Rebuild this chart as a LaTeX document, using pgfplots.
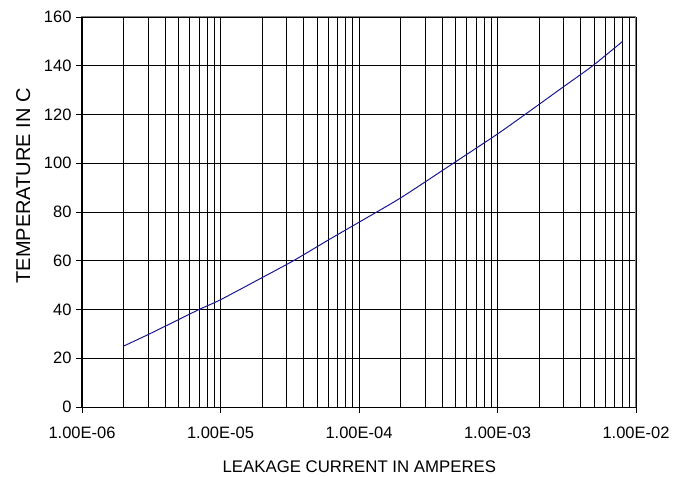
\documentclass[border=0pt]{standalone}
\usepackage{pgfplots}
\pgfplotsset{compat=1.18}
\usepackage{fontspec}
\setmainfont{Liberation Sans}
\definecolor{curve}{RGB}{25,25,145}
\begin{document}
\begin{tikzpicture}[x=1pt,y=1pt]
\begin{axis}[
  scale only axis,
  width=554pt, height=390pt,
  xmode=log,
  xmin=1e-6, xmax=1e-2,
  ymin=0, ymax=160,
  xtick={1e-6,1e-5,1e-4,1e-3,1e-2},
  xticklabels={1.00E-06,1.00E-05,1.00E-04,1.00E-03,1.00E-02},
  ytick={0,20,40,60,80,100,120,140,160},
  grid=both,
  major grid style={black, line width=0.9pt},
  minor grid style={black, line width=0.9pt},
  axis line style={gray, line width=1pt},
  tick pos=left,
  tick align=outside,
  major tick length=6pt,
  minor tick length=0pt,
  tick style={black, line width=0.9pt},
  ticklabel style={font=\fontsize{16.5}{19}\selectfont},
  /pgf/number format/assume math mode=true,
  xticklabel style={yshift=-10pt},
  yticklabel style={xshift=-1pt},
  xlabel={LEAKAGE CURRENT IN AMPERES},
  ylabel={TEMPERATURE IN C},
  xlabel style={font=\fontsize{16.8}{19}\selectfont, at={(axis description cs:0.5007,-0.154)}, anchor=center},
  ylabel style={font=\fontsize{20}{22}\selectfont, at={(axis description cs:-0.106,0.567)}, anchor=center},
  clip=false,
]
\addplot[curve, line width=1pt, smooth, tension=0.4] coordinates {
(2e-6,25) (3e-6,29.7) (5e-6,35.9) (7e-6,40) (1e-5,44) (2e-5,53.1)
(3.36e-5,60) (6e-5,68.5) (1e-4,75.8) (2e-4,85.8) (4.8e-4,100) (1e-3,112)
(1.58e-3,120) (3e-3,131.4) (4.87e-3,140) (8e-3,150)
};
\draw[black, line width=1pt] (rel axis cs:0,1) -- (rel axis cs:0,0) -- (rel axis cs:1,0);
\end{axis}
\path (current axis.south west) ++(-82pt,-70pt) coordinate (bl);
\path (current axis.north east) ++(52pt,17pt) coordinate (tr);
\path (bl) rectangle (tr);
\end{tikzpicture}
\end{document}
